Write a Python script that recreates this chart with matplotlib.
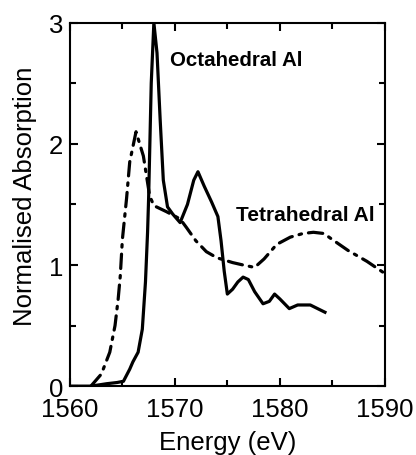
import matplotlib
matplotlib.use('Agg')
import matplotlib.pyplot as plt
from matplotlib.ticker import MultipleLocator

plt.rcParams['font.family'] = ['Liberation Sans', 'DejaVu Sans']

# Octahedral Al spectrum (solid)
oct_e = [1560, 1562, 1563.5, 1564.5, 1565.1, 1565.7, 1566.0, 1566.5, 1566.9, 1567.2, 1567.4,
         1567.5, 1567.75, 1568.0, 1568.3, 1568.6, 1568.9, 1569.3, 1569.8, 1570.5, 1571.2, 1571.8,
         1572.2, 1572.8, 1573.5, 1574.1, 1574.4, 1574.7, 1575.0, 1575.5, 1576.0, 1576.5,
         1577.0, 1577.6, 1578.4, 1579.0, 1579.5, 1580.0, 1580.9, 1581.7, 1582.9, 1583.6, 1584.3]
oct_a = [0.0, 0.0, 0.02, 0.03, 0.04, 0.14, 0.2, 0.28, 0.47, 0.86, 1.27,
         1.55, 2.5, 3.0, 2.75, 2.2, 1.7, 1.48, 1.42, 1.35, 1.5, 1.7,
         1.77, 1.65, 1.52, 1.40, 1.2, 0.95, 0.76, 0.8, 0.86, 0.90,
         0.88, 0.78, 0.68, 0.70, 0.76, 0.72, 0.64, 0.67, 0.67, 0.64, 0.61]

# Tetrahedral Al spectrum (dash-dot)
tet_e = [1562.0, 1563.0, 1563.8, 1564.3, 1564.6, 1564.8, 1565.0, 1565.4, 1565.7, 1566.3,
         1567.0, 1567.6, 1568.0, 1569.2, 1570.5, 1571.1, 1572.0, 1573.0, 1574.0, 1575.5,
         1576.5, 1577.6, 1578.5, 1579.7, 1581.0, 1582.2, 1583.2, 1584.2, 1585.0, 1586.5,
         1588.3, 1590.0]
tet_a = [0.0, 0.1, 0.28, 0.5, 0.72, 0.91, 1.21, 1.55, 1.85, 2.10,
         1.90, 1.57, 1.49, 1.44, 1.38, 1.31, 1.2, 1.11, 1.06, 1.02,
         1.0, 0.98, 1.05, 1.17, 1.23, 1.26, 1.27, 1.26, 1.21, 1.12,
         1.03, 0.93]

fig = plt.figure(figsize=(4.16, 4.56), dpi=100)
ax = fig.add_axes([0.168, 0.151, 0.757, 0.797])

ax.plot(oct_e, oct_a, color='black', lw=2.3, solid_joinstyle='round')
ax.plot(tet_e, tet_a, color='black', lw=2.3, dashes=(4.5, 2.2, 0.8, 2.2), dash_capstyle='round')

ax.text(1569.5, 2.70, 'Octahedral Al', fontsize=14.8, fontweight='bold', va='center')
ax.text(1575.8, 1.42, 'Tetrahedral Al', fontsize=15, fontweight='bold', va='center')

ax.set_xlim(1560, 1590)
ax.set_ylim(0, 3)
ax.xaxis.set_major_locator(MultipleLocator(10))
ax.xaxis.set_minor_locator(MultipleLocator(5))
ax.yaxis.set_major_locator(MultipleLocator(1))
ax.yaxis.set_minor_locator(MultipleLocator(0.5))
ax.tick_params(which='both', direction='in', top=True, right=True, width=1.5)
ax.tick_params(which='major', length=6, labelsize=18.5)
ax.tick_params(which='minor', length=4)
ax.tick_params(axis='x', pad=7.5)
ax.tick_params(axis='y', pad=5)
for s in ax.spines.values():
    s.set_linewidth(1.5)

ax.set_xlabel('Energy (eV)', fontsize=18.5, labelpad=7)
ax.set_ylabel('Normalised Absorption', fontsize=18.5)
ax.yaxis.set_label_coords(-0.105, 0.525)

fig.savefig('out.png', dpi=100)
